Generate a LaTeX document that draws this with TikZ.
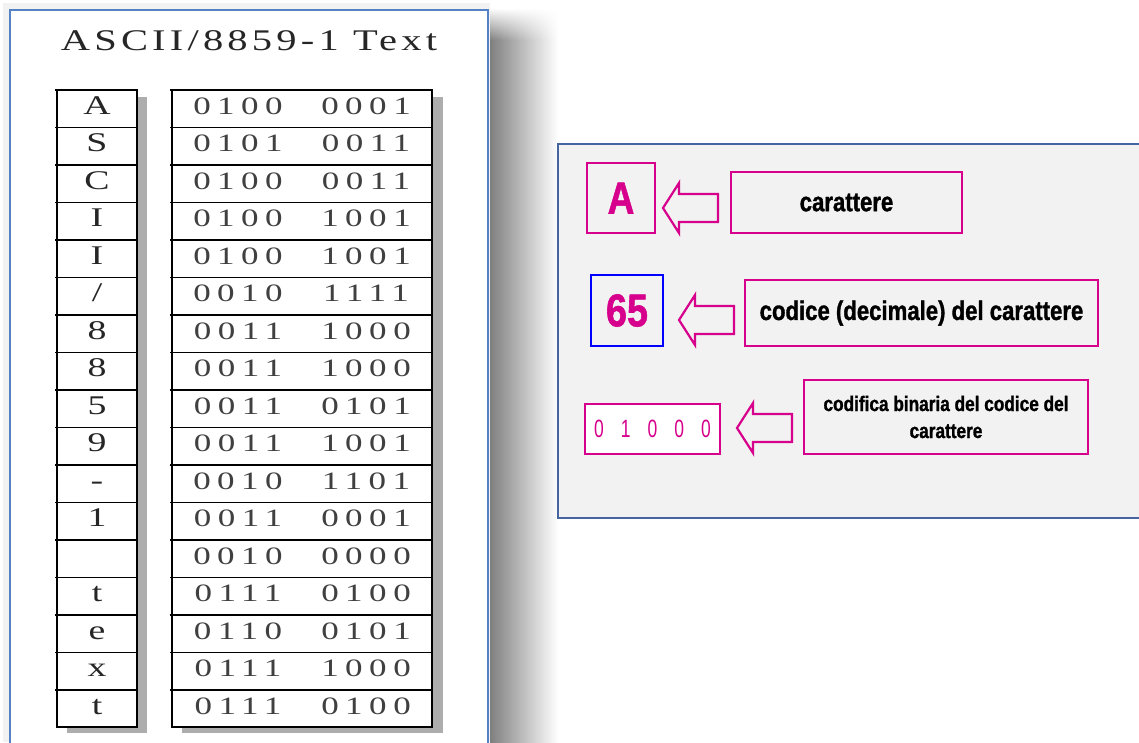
\documentclass[tikz,border=0pt]{standalone}
\usepackage{fontspec}
\usetikzlibrary{positioning, fadings}
\setmainfont{Liberation Serif}
\newfontfamily\titlefont[FakeStretch=1.35, LetterSpace=14]{Liberation Serif}
\newfontfamily\tabfont[FakeStretch=1.4]{Liberation Serif}
\newfontfamily\bitfont[FakeStretch=1.4, LetterSpace=26]{Liberation Serif}
\newfontfamily\narrowfont[FakeStretch=0.82, FakeBold=1.2]{Liberation Sans Bold}
\newfontfamily\slimfont[FakeStretch=0.7]{Liberation Sans}
\definecolor{CSmag}{RGB}{214,0,140}
\definecolor{CSframe}{RGB}{84,130,196}
\definecolor{CSedge}{RGB}{70,100,160}
\definecolor{CSpanel}{RGB}{242,242,242}
\newcommand\bitgap{\hspace{17pt}}
\tikzfading[name=topfade, top color=transparent!100, bottom color=transparent!0]

\begin{document}
\begin{tikzpicture}[x=1pt, y=-1pt,
  cell/.style={font=\tabfont\fontsize{27}{27}\selectfont, text=black!85, inner sep=0pt},
  bits/.style={font=\bitfont\fontsize{25}{25}\selectfont, text=black!75, inner sep=0pt},
  tabline/.style={line width=1.3pt},
  tabshadow/.style={fill=black!32},
  magbox/.style={draw=CSmag, line width=2.6pt, inner sep=0pt},
  labelbox/.style={magbox, text=black, font=\narrowfont\fontsize{27}{27}\selectfont},
  arrowline/.style={draw=CSmag, line width=2.2pt, line join=miter},
  blockarrow/.pic={
    \draw[arrowline] (0,-14) -- (-39,-14) -- (-39,-25) -- (-55,0)
      -- (-39,25) -- (-39,14) -- (0,14) -- cycle;
  }]
\useasboundingbox (0,0) rectangle (1139,742);
\clip (0,0) rectangle (1139,742);

% left panel
\fill[black!5] (3,3) rectangle (490,742);
\shade[left color=black!50, right color=white] (490,40) rectangle (558,742);
\shade[left color=black!50, right color=white, path fading=topfade] (490,8) rectangle (558,40);
\draw[CSframe, fill=white, line width=2.4pt] (10,10) rectangle (488,760);
\node[font=\titlefont\fontsize{30}{30}\selectfont, text=black!85] (title) at (249,41) {ASCII/8859-1 Text};

% table
\fill[tabshadow] (67,97) rectangle (147,733);
\fill[tabshadow] (182,97) rectangle (443,733);
\draw[tabline, fill=white] (57,90) rectangle (137,727);
\draw[tabline, fill=white] (172,90) rectangle (432,727);
\foreach \ch/\hi/\lo [count=\r from 0] in {A/0100/0001, S/0101/0011, C/0100/0011,
    I/0100/1001, I/0100/1001, {/}/0010/1111, 8/0011/1000, 8/0011/1000,
    5/0011/0101, 9/0011/1001, -/0010/1101, 1/0011/0001, {}/0010/0000,
    t/0111/0100, e/0110/0101, x/0111/1000, t/0111/0100}{
  \pgfmathsetmacro\yt{90+\r*37.5}
  \draw[tabline] (55,\yt) -- (137,\yt);
  \draw[tabline] (170,\yt) -- (432,\yt);
  \node[cell] (c\r) at (97,{\yt+19}) {\strut\ch};
  \node[bits] (h\r) at (238,{\yt+19}) {\strut\hi};
  \node[bits] (l\r) at (366,{\yt+19}) {\strut\lo};
}

% right panel
\draw[CSedge, fill=CSpanel, line width=1.5pt] (558,144) rectangle (1150,518);

\node[magbox, minimum width=68, minimum height=70, text=CSmag,
  font=\narrowfont\fontsize{45}{45}\selectfont] (chr) at (621,198) {A};
\node[labelbox, minimum width=231, minimum height=61] (chrlbl) at (846.5,202.5) {carattere};
\pic at (718,208) {blockarrow};

\node[magbox, draw=blue, minimum width=72, minimum height=71, text=CSmag,
  font=\narrowfont\fontsize{46}{46}\selectfont] (dec) at (627,310.5) {65};
\node[labelbox, minimum width=353, minimum height=66] (declbl) at (921.5,313) {codice (decimale) del carattere};
\pic at (734,320) {blockarrow};

\node[magbox, fill=white, minimum width=135, minimum height=50, text=CSmag,
  font=\slimfont\fontsize{25}{25}\selectfont] (bin) at (652.5,429)
  {0\bitgap1\bitgap0\bitgap0\bitgap0};
\node[labelbox, minimum width=284, minimum height=74, align=center,
  font=\narrowfont\fontsize{21}{27}\selectfont] (binlbl) at (946,417)
  {codifica binaria del codice del\\carattere};
\pic at (792,428) {blockarrow};
\end{tikzpicture}
\end{document}
